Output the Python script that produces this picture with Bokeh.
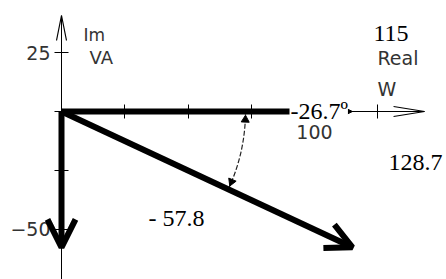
import math
from bokeh.plotting import figure
from bokeh.models import Range1d, Arrow, OpenHead, NormalHead, Label, FixedTicker, LinearAxis
from bokeh.embed import file_html
from bokeh.resources import INLINE

# ---- data (power triangle) ----
P_real = 115.0        # W
Q_imag = -57.8        # VA (reactive)
S_apparent = 128.7    # VA
phase_deg = -26.7

x_ticks = [25, 50, 75, 100, 125]
x_tick_labels = {100: "100"}
y_ticks = [-50, -25, 0, 25]
y_tick_labels = {25: "25", -50: "\u221250"}

x_axis_end = 143.5
y_axis_end = 40.85

# ---- layout / scale ----
W, H = 446, 279
sx, sy = 2.53, 2.35          # px per unit
ox, oy = 61, 111             # canvas px of the origin


def dx(px):
    return (px - ox) / sx


def dy(py):
    return (oy - py) / sy


p = figure(width=W, height=H,
           x_range=Range1d(dx(0), dx(W)), y_range=Range1d(dy(H), dy(0)),
           output_backend="svg", toolbar_location=None, min_border=0,
           x_axis_location=None, y_axis_location=None, outline_line_color=None)
p.xgrid.grid_line_color = None
p.ygrid.grid_line_color = None

cad_font = "DejaVu Sans"
cad_color = "#333333"
serif_font = "Liberation Serif"

xax = LinearAxis(fixed_location=0, ticker=FixedTicker(ticks=x_ticks),
                 bounds=(0, x_axis_end),
                 major_label_overrides={t: x_tick_labels.get(t, "") for t in x_ticks},
                 major_tick_in=7, major_tick_out=7, minor_tick_line_color=None,
                 axis_line_width=1, major_label_standoff=6,
                 major_label_text_font=cad_font, major_label_text_font_size="19px",
                 major_label_text_color=cad_color)
p.add_layout(xax, "below")

yax = LinearAxis(fixed_location=0, ticker=FixedTicker(ticks=y_ticks),
                 bounds=(dy(H), y_axis_end),
                 major_label_overrides={t: y_tick_labels.get(t, "") for t in y_ticks},
                 major_tick_in=7, major_tick_out=7, minor_tick_line_color=None,
                 axis_line_width=1, major_label_standoff=4,
                 major_label_text_font=cad_font, major_label_text_font_size="19px",
                 major_label_text_color=cad_color)
p.add_layout(yax, "left")

# axis arrow heads (narrow, thin)
p.line([x_axis_end - 31 / sx, x_axis_end, x_axis_end - 31 / sx],
       [5 / sy, 0, -5 / sy], line_color="black", line_width=1.2)
p.line([-5 / sx, 0, 5 / sx],
       [y_axis_end - 25 / sy, y_axis_end, y_axis_end - 25 / sy], line_color="black", line_width=1.2)

# angle arc
R = 184
phi_s = math.atan2(Q_imag * sy, P_real * sx)   # screen angle of S
p.arc(x=[0], y=[0], radius=R, radius_units="screen", start_angle=phi_s, end_angle=0,
      line_color="#222", line_width=1.2, line_dash="5 2")
a_top = -0.045
a_bot = phi_s + 0.045
p.scatter(x=[R * math.cos(a_top) / sx, R * math.cos(a_bot) / sx],
          y=[R * math.sin(a_top) / sy, R * math.sin(a_bot) / sy],
          marker="triangle", size=8, angle=[a_top, a_bot + math.pi],
          fill_color="black", line_color="black")

# phasors
p.add_layout(Arrow(x_start=0, y_start=0, x_end=P_real, y_end=0, line_width=6,
                   end=NormalHead(size=24, fill_color="black", line_color="black")))
p.add_layout(Arrow(x_start=0, y_start=0, x_end=0, y_end=Q_imag, line_width=6,
                   end=OpenHead(size=28, line_width=6)))
p.add_layout(Arrow(x_start=0, y_start=0, x_end=P_real, y_end=Q_imag, line_width=6,
                   end=OpenHead(size=26, line_width=6)))


# labels
def lab(text, px, py, font, size, color="black", **kw):
    p.add_layout(Label(x=dx(px), y=dy(py), text=text, text_font=font,
                       text_font_size=size, text_align="left",
                       text_baseline="alphabetic", text_color=color, **kw))


lab("-26.7\u00ba", 289, 108, serif_font, "24px", background_fill_color="white",
    padding=(1, 0, 6, 1))
lab("115", 373, 33, serif_font, "24px")
lab("128.7", 388, 162, serif_font, "24px")
lab("- 57.8", 148, 217, serif_font, "24px")
lab("Im", 83, 34, cad_font, "17px", color=cad_color)
lab("VA", 89, 57, cad_font, "18px", color=cad_color)
lab("Real", 377, 57, cad_font, "19px", color=cad_color)
lab("W", 377, 88, cad_font, "19px", color=cad_color)

open("out.html", "w").write(file_html(p, INLINE))
